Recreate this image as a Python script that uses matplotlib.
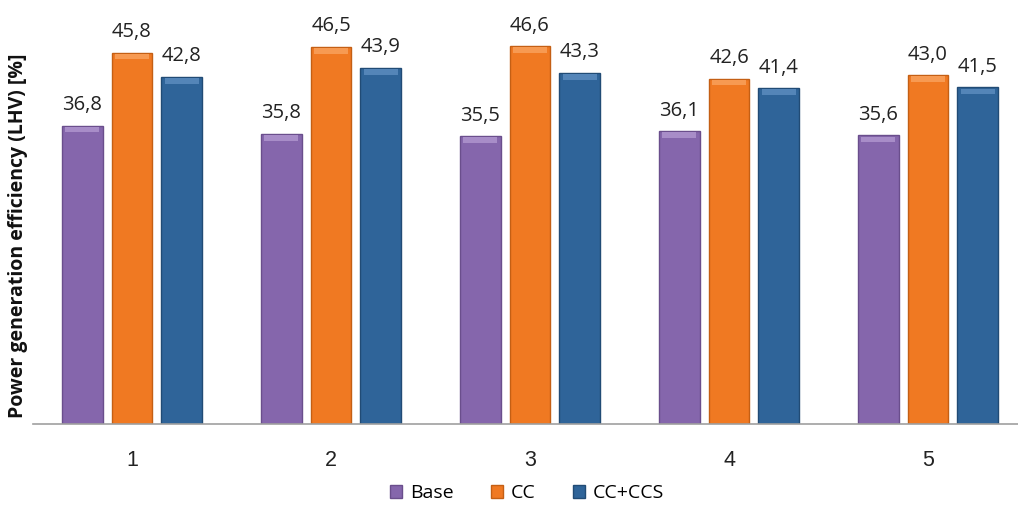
import matplotlib
matplotlib.use("Agg")
import matplotlib.pyplot as plt
import numpy as np

# data
categories = ["1", "2", "3", "4", "5"]
base = [36.8, 35.8, 35.5, 36.1, 35.6]
cc = [45.8, 46.5, 46.6, 42.6, 43.0]
cc_ccs = [42.8, 43.9, 43.3, 41.4, 41.5]
series_names = ["Base", "CC", "CC+CCS"]

colors = ["#8566AC", "#F07922", "#2F6499"]
edges = ["#6A4E8C", "#C45F14", "#214B75"]
tops = ["#A88DC8", "#F79A52", "#5485B8"]

W, H = 1018, 508
fig = plt.figure(figsize=(W / 100, H / 100), dpi=100)
# axes placed in pixel coordinates of the reference
left, right, top, bottom = 32.5, 1027.5, 18.5, 424
ax = fig.add_axes([left / W, 1 - bottom / H, (right - left) / W, (bottom - top) / H])

x = np.arange(len(categories))
offsets = [-0.25, 0, 0.25]
width = 0.205
bevel = 0.7

for vals, off, c, ec, tc in zip([base, cc, cc_ccs], offsets, colors, edges, tops):
    vals = np.array(vals)
    ax.bar(x + off, vals, width, color=c, edgecolor=ec, linewidth=1.0, zorder=2)
    # light bevel strip on top of each bar
    ax.bar(x + off, np.full_like(vals, bevel), width * 0.84, bottom=vals - bevel - 0.15,
           color=tc, linewidth=0, zorder=3)
    for xi, v in zip(x + off, vals):
        ax.text(xi, v + 1.3, f"{v:.1f}".replace(".", ","), ha="center", va="bottom",
                fontsize=14.5, family="Open Sans", color="#222222")

ax.set_xlim(-0.5, 4.5)
ax.set_ylim(0, 50)
ax.set_yticks([])
ax.set_xticks(x)
ax.set_xticklabels(categories, fontsize=15.5, family="Liberation Sans", color="#222222")
ax.tick_params(axis="x", length=0, pad=19)
for s in ["top", "right", "left"]:
    ax.spines[s].set_visible(False)
ax.spines["bottom"].set_color("#A0A0A0")
ax.spines["bottom"].set_linewidth(1.2)

fig.text(18 / W, 1 - 236 / H, "Power generation efficiency (LHV) [%]", rotation=90,
         ha="center", va="center", fontsize=14, fontweight="bold", family="Open Sans",
         color="#111111")

handles = [plt.Rectangle((0, 0), 1, 1, facecolor=c, edgecolor=ec) for c, ec in zip(colors, edges)]
fig.legend(handles, series_names, loc="center", bbox_to_anchor=(527 / W, 1 - 493 / H),
           ncol=3, frameon=False, prop={"family": "Open Sans", "size": 14},
           handlelength=0.65, handleheight=0.65, handletextpad=0.4, columnspacing=1.9,
           borderpad=0)

fig.savefig("out.png", dpi=100)
